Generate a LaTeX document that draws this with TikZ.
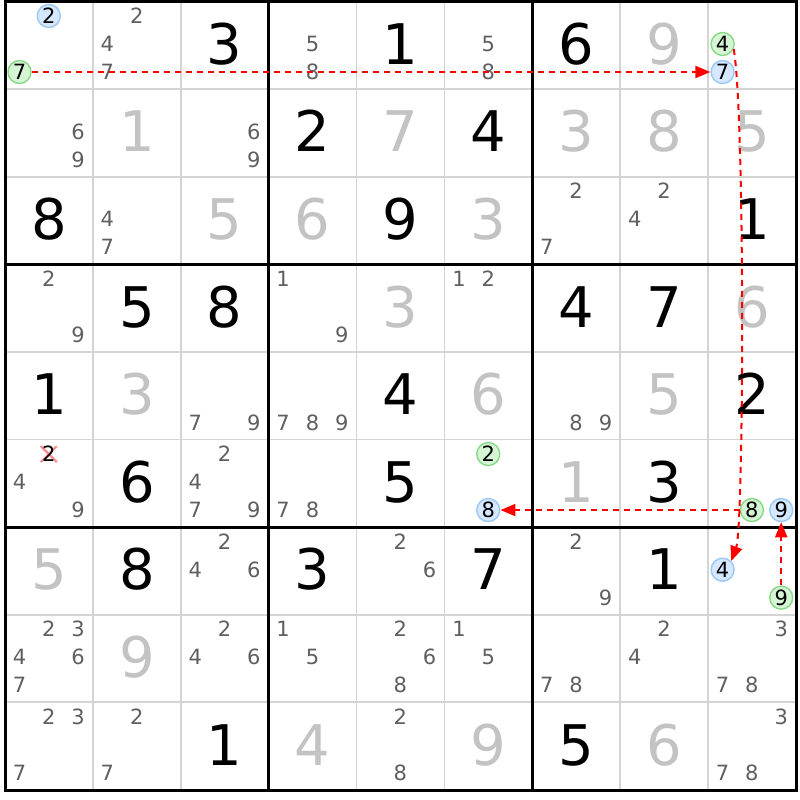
\documentclass[tikz,border=0pt]{standalone}
\usepackage{fontspec}
\setmainfont{DejaVu Sans}
\usetikzlibrary{arrows.meta}
\definecolor{thinc}{HTML}{D4D4D4}
\definecolor{candc}{HTML}{5F5F5F}
\definecolor{solvc}{HTML}{C3C3C3}
\definecolor{gfill}{HTML}{D5F5D5}
\definecolor{gline}{HTML}{88D888}
\definecolor{bfill}{HTML}{D5E8FF}
\definecolor{bline}{HTML}{9CC8F5}
\definecolor{xred}{HTML}{FF8C8C}
\definecolor{linkred}{HTML}{FF0000}
\begin{document}
\begin{tikzpicture}[x=1pt,y=-1pt,
  big/.style={inner sep=0pt, text height=40.8pt, text depth=0pt, font=\fontsize{56}{60}\selectfont},
  givenD/.style={big, text=black},
  solvedD/.style={big, text=solvc},
  cand/.style={inner sep=0pt, text height=15.3pt, text depth=0pt, font=\fontsize{21}{23}\selectfont, text=candc},
  circ/.style={cand, text=black, circle, minimum size=23pt, line width=1.4pt},
  gcirc/.style={circ, fill=gfill, draw=gline},
  bcirc/.style={circ, fill=bfill, draw=bline},
  thinline/.style={draw=thinc, line width=1.8pt},
  thickline/.style={draw=black, line width=3pt},
  link/.style={color=linkred, draw=linkred, line width=2pt, dash pattern=on 6pt off 5pt, -{Triangle[length=15pt,width=12pt]}},
  xmark/.style={draw=xred, line width=2.2pt}
]
\def\cw{87.889}
\def\ch{87.61}
\fill[white] (0,0) rectangle (800,800);
\useasboundingbox (0,0) rectangle (800,800);
% thin grid
\foreach \i in {1,2,4,5,7,8} {
  \draw[thinline] ({5+\cw*\i},1.5) -- ({5+\cw*\i},790);
  \draw[thinline] (5,{1.5+\ch*\i}) -- (796,{1.5+\ch*\i});
}
% thick grid
\foreach \i in {3,6} {
  \draw[thickline] ({5+\cw*\i},1.5) -- ({5+\cw*\i},790);
  \draw[thickline] (5,{1.5+\ch*\i}) -- (796,{1.5+\ch*\i});
}
\draw[thickline] (5,1.5) rectangle (796,790);
% given digits
\foreach \r/\c/\v in {0/2/3,0/4/1,0/6/6,1/3/2,1/5/4,2/0/8,2/4/9,2/8/1,3/1/5,3/2/8,3/6/4,3/7/7,4/0/1,4/4/4,4/8/2,5/1/6,5/4/5,5/7/3,6/1/8,6/3/3,6/5/7,6/7/1,8/2/1,8/6/5} {
  \node[givenD] (g-\r-\c) at ({5+\cw*(\c+0.5)},{1.5+\ch*(\r+0.5)-1.5}) {\v};
}
% solved digits
\foreach \r/\c/\v in {0/7/9,1/1/1,1/4/7,1/6/3,1/7/8,1/8/5,2/2/5,2/3/6,2/5/3,3/4/3,3/8/6,4/1/3,4/5/6,4/7/5,5/6/1,6/0/5,7/1/9,8/3/4,8/5/9,8/7/6} {
  \node[solvedD] (s-\r-\c) at ({5+\cw*(\c+0.5)},{1.5+\ch*(\r+0.5)-1.5}) {\v};
}
% candidates
\foreach \r/\c/\d in {0/1/2,0/1/4,0/1/7,0/3/5,0/3/8,0/5/5,0/5/8,
  1/0/6,1/0/9,1/2/6,1/2/9,
  2/1/4,2/1/7,2/6/2,2/6/7,2/7/2,2/7/4,
  3/0/2,3/0/9,3/3/1,3/3/9,3/5/1,3/5/2,
  4/2/7,4/2/9,4/3/7,4/3/8,4/3/9,4/6/8,4/6/9,
  5/0/4,5/0/9,5/2/2,5/2/4,5/2/7,5/2/9,5/3/7,5/3/8,
  6/2/2,6/2/4,6/2/6,6/4/2,6/4/6,6/6/2,6/6/9,
  7/0/2,7/0/3,7/0/4,7/0/6,7/0/7,7/2/2,7/2/4,7/2/6,7/3/1,7/3/5,7/4/2,7/4/6,7/4/8,7/5/1,7/5/5,7/6/7,7/6/8,7/7/2,7/7/4,7/8/3,7/8/7,7/8/8,
  8/0/2,8/0/3,8/0/7,8/1/2,8/1/7,8/4/2,8/4/8,8/8/3,8/8/7,8/8/8} {
  \pgfmathsetmacro\px{5+\cw*\c+14.5+29.3*mod(\d-1,3)}
  \pgfmathsetmacro\py{1.5+\ch*\r+14.5+28*int((\d-1)/3)}
  \node[cand] (c-\r-\c-\d) at (\px,\py) {\d};
}
% eliminated candidate
\pgfmathsetmacro\ex{5+\cw*0+14.5+29.3}
\pgfmathsetmacro\ey{1.5+\ch*5+14.5}
\draw[xmark] (\ex-8,\ey-8) -- (\ex+8,\ey+8);
\draw[xmark] (\ex-8,\ey+8) -- (\ex+8,\ey-8);
\node[cand, text=black] (e-5-0-2) at (\ex,\ey) {2};
% green circled candidates
\foreach \r/\c/\d in {0/0/7,0/8/4,5/5/2,5/8/8,6/8/9} {
  \pgfmathsetmacro\px{5+\cw*\c+14.5+29.3*mod(\d-1,3)}
  \pgfmathsetmacro\py{1.5+\ch*\r+14.5+28*int((\d-1)/3)}
  \node[gcirc] (c-\r-\c-\d) at (\px,\py) {\d};
}
% blue circled candidates
\foreach \r/\c/\d in {0/0/2,0/8/7,5/5/8,5/8/9,6/8/4} {
  \pgfmathsetmacro\px{5+\cw*\c+14.5+29.3*mod(\d-1,3)}
  \pgfmathsetmacro\py{1.5+\ch*\r+14.5+28*int((\d-1)/3)}
  \node[bcirc] (c-\r-\c-\d) at (\px,\py) {\d};
}
% links
\draw[link] (c-0-0-7) -- (c-0-8-7);
\draw[link] (c-0-8-4.-25) .. controls (745,110) and (744,526) .. (c-6-8-4.45);
\draw[link] (c-5-8-8) -- (c-5-5-8);
\draw[link] (c-6-8-9) -- (c-5-8-9);
\end{tikzpicture}
\end{document}
